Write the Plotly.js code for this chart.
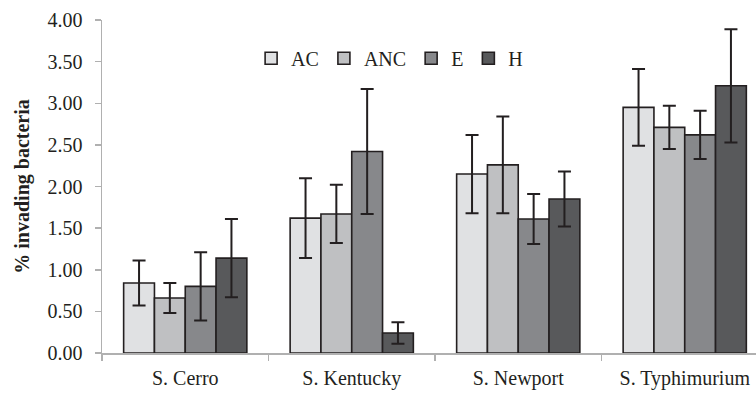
<!DOCTYPE html>
<html>
<head>
<meta charset="utf-8">
<script src="https://cdn.plot.ly/plotly-3.0.1.min.js"></script>
<style>html,body{margin:0;padding:0;background:#fff;overflow:hidden}#chart{width:756px;height:393px}
#fontwarm{position:absolute;left:-9999px;top:0;font-family:'Liberation Serif';font-size:20px}
#fontwarm b{font-weight:bold}</style>
</head>
<body>
<div id="chart"></div>
<div id="fontwarm" aria-hidden="true">Aa <b>Aa</b></div>
<script>
const categories = ["S. Cerro", "S. Kentucky", "S. Newport", "S. Typhimurium"];
const seriesNames = ["AC", "ANC", "E", "H"];
const valuesAC = [0.84, 1.62, 2.15, 2.95];
const valuesANC = [0.66, 1.67, 2.26, 2.71];
const valuesE = [0.80, 2.42, 1.61, 2.62];
const valuesH = [1.14, 0.24, 1.85, 3.21];
const errAC = [0.27, 0.48, 0.47, 0.46];
const errANC = [0.18, 0.35, 0.58, 0.26];
const errE = [0.41, 0.75, 0.30, 0.29];
const errH = [0.47, 0.13, 0.33, 0.68];
const yTickVals = [0, 0.5, 1, 1.5, 2, 2.5, 3, 3.5, 4];
const yTickText = ["0.00","0.50","1.00","1.50","2.00","2.50","3.00","3.50","4.00"];

const colors = ["#e0e1e3", "#bfc0c2", "#87888b", "#58595b"];
const allVals = [valuesAC, valuesANC, valuesE, valuesH];
const allErr = [errAC, errANC, errE, errH];
const fam = "Liberation Serif";

const traces = seriesNames.map((n, i) => ({
  type: "bar",
  name: n,
  x: categories,
  y: allVals[i],
  marker: {color: colors[i], line: {color: "#231f20", width: 1.6}},
  error_y: {type: "data", array: allErr[i], visible: true, color: "#231f20", thickness: 2, width: 6.5}
}));

const layout = {
  width: 756, height: 393,
  margin: {l: 102, r: 0, t: 20, b: 40},
  paper_bgcolor: "#fff", plot_bgcolor: "#fff",
  barmode: "group", bargap: 0.26, bargroupgap: 0,
  font: {family: fam, size: 20, color: "#231f20"},
  showlegend: true,
  legend: {orientation: "h", x: 0.228, xanchor: "left", y: 0.885, yanchor: "middle",
    font: {family: fam, size: 20, color: "#231f20"},
    bgcolor: "rgba(0,0,0,0)", itemwidth: 30, traceorder: "normal"},
  xaxis: {type: "category", range: [-0.5, 3.428], showline: true, linecolor: "#b0b0b0", linewidth: 1.5,
    ticks: "outside", tickson: "boundaries", ticklen: 6, tickcolor: "#b0b0b0", tickwidth: 1.5,
    showgrid: false, zeroline: false, tickfont: {family: fam, size: 20}, ticklabelstandoff: 6},
  yaxis: {range: [0, 4], tickvals: yTickVals, ticktext: yTickText, showline: true, linecolor: "#b0b0b0",
    linewidth: 1.5, ticks: "outside", ticklen: 6, tickcolor: "#b0b0b0", tickwidth: 1.5,
    showgrid: false, zeroline: false, tickfont: {family: fam, size: 20}, ticklabelstandoff: 8,
    title: {text: "<b>% invading bacteria</b>", font: {family: fam, size: 20}, standoff: 12}}
};

function draw() {
  Plotly.newPlot("chart", traces, layout, {displayModeBar: false, staticPlot: true}).then(gd => {
    // force a style/layout pass so the serif face is applied to the SVG text
    const t = gd.querySelector(".xtick text");
    if (t) t.getAttribute("style");
    document.body.offsetHeight;
  });
}
const loads = (document.fonts && document.fonts.load)
  ? Promise.all([document.fonts.load("20px 'Liberation Serif'"), document.fonts.load("bold 20px 'Liberation Serif'")])
  : Promise.resolve();
loads.then(draw, draw);
</script>
</body>
</html>
